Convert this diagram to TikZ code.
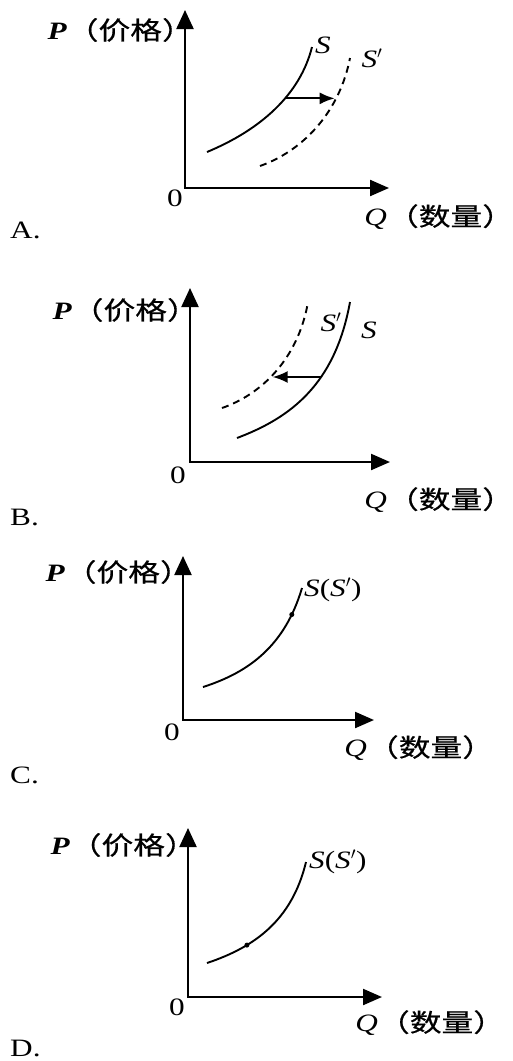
\documentclass[tikz,border=0pt]{standalone}
\usepackage{fontspec}
\usepackage{tikz}
\usetikzlibrary{arrows.meta}
\setmainfont{Liberation Serif}[FakeStretch=1.25]
\newfontfamily\cjk{Noto Sans CJK SC}[FakeStretch=1.27,FakeBold=0.6]

\begin{document}
\begin{tikzpicture}[x=1pt,y=-1pt,>=Latex]
\tikzset{axis/.style={line width=2.2pt,{Triangle[length=19pt,width=17pt]}-{Triangle[length=19pt,width=16pt]}},
 curve/.style={line width=1.9pt},
 shifted/.style={line width=1.9pt,dash pattern=on 7pt off 5pt},
 move/.style={line width=1.9pt,-{Latex[length=15pt,width=12pt]}},
 lab/.style={inner sep=0pt,font=\fontsize{25}{29}\selectfont},
 dot/.style={circle,fill,inner sep=0pt,minimum size=5pt}}
\useasboundingbox (0,0) rectangle (513,1061);

% A
\coordinate (oA) at (185,188);
\coordinate (pA) at (185,10);
\coordinate (qA) at (389,188);
\draw[axis] (pA) -- (oA) -- (qA);
\node[lab,anchor=east] (PA) at (194,30) {\textbf{\textit{P}}\cjk（价格）};
\node[lab,anchor=east] (QA) at (503,217) {\textit{Q}\cjk（数量）\kern-0.45em};
\node[lab] (zA) at (175,198) {0};
\node[lab,anchor=west] (A) at (10,230) {A.};
\draw[curve] (207,152) .. controls (260,130) and (300,95) .. coordinate[pos=0.6] (sA) (312,47);
\draw[shifted] (260,166) .. controls (305,150) and (340,110) .. coordinate[pos=0.7] (dA) (350,58);
\node[lab] (SA) at (323,45) {\textit{S}};
\node[lab] (SpA) at (372,58) {\textit{S}$'$};
\draw[move] (sA) -- (sA -| dA);

% B
\coordinate (oB) at (190,462);
\coordinate (pB) at (190,288);
\coordinate (qB) at (390,462);
\draw[axis] (pB) -- (oB) -- (qB);
\node[lab,anchor=east] (PB) at (199,310) {\textbf{\textit{P}}\cjk（价格）};
\node[lab,anchor=east] (QB) at (503,500) {\textit{Q}\cjk（数量）\kern-0.45em};
\node[lab] (zB) at (178,475) {0};
\node[lab,anchor=west] (B) at (10,517) {B.};
\draw[curve] (237,438) .. controls (290,418) and (335,385) .. coordinate[pos=0.62] (sB) (350,302);
\draw[shifted] (222,408) .. controls (260,395) and (298,360) .. coordinate[pos=0.47] (dB) (308,302);
\node[lab] (SB) at (369,330) {\textit{S}};
\node[lab] (SpB) at (331,322) {\textit{S}$'$};
\draw[move] (sB) -- (sB -| dB);

% C
\coordinate (oC) at (183,720);
\coordinate (pC) at (183,556);
\coordinate (qC) at (374,720);
\draw[axis] (pC) -- (oC) -- (qC);
\node[lab,anchor=east] (PC) at (192,572) {\textbf{\textit{P}}\cjk（价格）};
\node[lab,anchor=east] (QC) at (483,748) {\textit{Q}\cjk（数量）\kern-0.45em};
\node[lab] (zC) at (172,732) {0};
\node[lab,anchor=west] (C) at (10,775) {C.};
\draw[curve] (203,687) .. controls (250,672) and (285,645) .. node[dot,pos=0.83] (kC) {} (302,588);
\node[lab,anchor=west] (SC) at (304,590) {\textit{S}(\textit{S}$'$)};

% D
\coordinate (oD) at (188,997);
\coordinate (pD) at (188,828);
\coordinate (qD) at (382,997);
\draw[axis] (pD) -- (oD) -- (qD);
\node[lab,anchor=east] (PD) at (197,845) {\textbf{\textit{P}}\cjk（价格）};
\node[lab,anchor=east] (QD) at (494,1023) {\textit{Q}\cjk（数量）\kern-0.45em};
\node[lab] (zD) at (177,1007) {0};
\node[lab,anchor=west] (D) at (10,1048) {D.};
\draw[curve] (207,963) .. controls (255,947) and (292,920) .. node[dot,pos=0.3] (kD) {} (306,862);
\node[lab,anchor=west] (SD) at (309,862) {\textit{S}(\textit{S}$'$)};
\end{tikzpicture}
\end{document}
